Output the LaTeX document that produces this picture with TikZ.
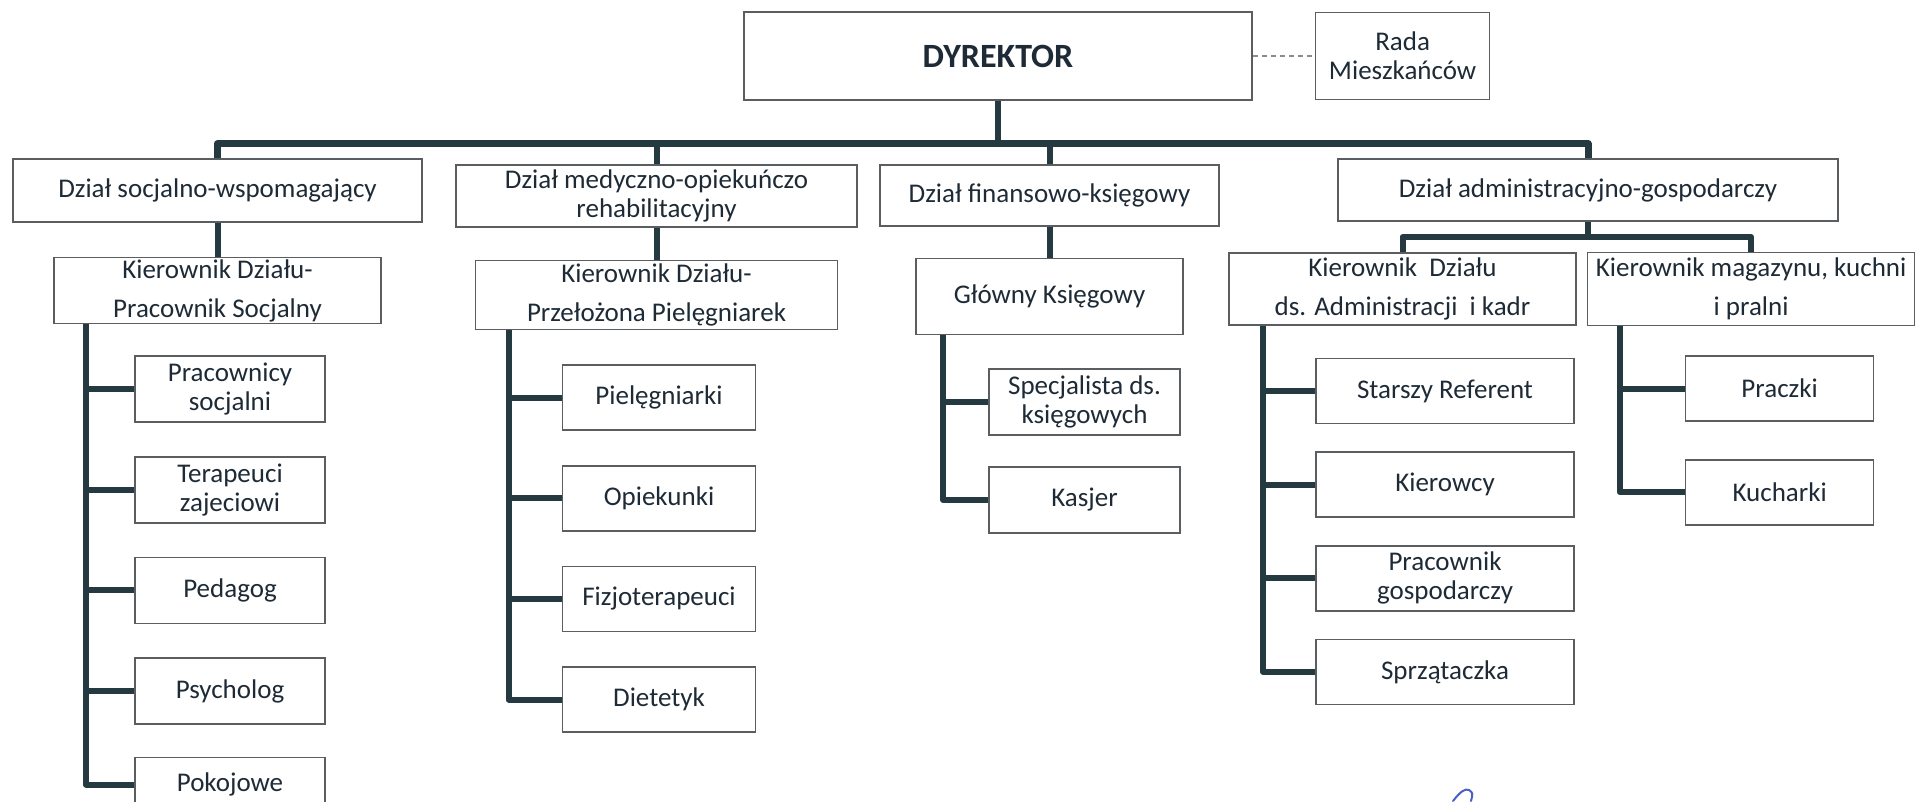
\documentclass[tikz,border=0pt]{standalone}
\usepackage{fontspec}
\setmainfont{Carlito}
\usetikzlibrary{positioning}

\definecolor{inkblue}{HTML}{1E2B36}
\definecolor{boxgray}{HTML}{5A5E60}
\definecolor{linkslate}{HTML}{243A40}
\definecolor{dashgray}{HTML}{8A8A8A}
\definecolor{penblue}{HTML}{4B5FC4}

\tikzset{
  box/.style={draw=boxgray, line width=1.6pt, fill=white, text=inkblue, align=center,
    inner xsep=4pt, inner ysep=1pt, font=\fontsize{27}{29}\selectfont},
  head/.style={box, font=\fontsize{27}{39}\selectfont},
  leaf/.style={box, minimum height=65pt},
  link/.style={draw=linkslate, line width=6pt, line join=round},
  bus/.style={link, line width=7pt},
  dashline/.style={draw=dashgray, line width=1.4pt, dash pattern=on 5pt off 4pt},
}

\begin{document}
\begin{tikzpicture}[x=1pt,y=-1pt]
	\useasboundingbox (0,0) rectangle (1916,801);
	\clip (0,0) rectangle (1916,801);

	% dyrekcja
	\node[box, font=\fontsize{34}{40}\selectfont\bfseries, minimum width=508pt, minimum height=88pt] (dyr) at (998,56) {DYREKTOR};
	\node[box, minimum width=174pt, minimum height=87pt, right=62pt of dyr] (rada) {Rada\\Mieszkańców};
	\coordinate[below=43pt of dyr.south] (bus);

	% dzialy
	\node[box, minimum width=409pt, minimum height=63pt] (socj) at (217.5,190.5) {Dział socjalno-wspomagający};
	\node[box, minimum width=401pt, minimum height=62pt] (med) at (656.5,196) {Dział medyczno-opiekuńczo\\rehabilitacyjny};
	\node[box, minimum width=339pt, minimum height=61pt] (fin) at (1049.5,195.5) {Dział finansowo-księgowy};
	\node[box, minimum width=500pt, minimum height=62pt] (adm) at (1588,190) {Dział administracyjno-gospodarczy};
	\coordinate[below=15pt of adm.south] (sub);

	% kierownicy
	\node[head, minimum width=327pt, minimum height=66pt, below=34pt of socj] (ks) {Kierownik Działu-\\Pracownik Socjalny};
	\node[head, minimum width=362pt, minimum height=69pt, below=32pt of med] (kp) {Kierownik Działu-\\Przełożona Pielęgniarek};
	\node[head, minimum width=267pt, minimum height=76pt, below=31pt of fin] (gk) {Główny Księgowy};
	\node[head, minimum width=347pt, minimum height=72pt] (ka) at (1402.5,289) {Kierownik~ Działu\\ds. Administracji~ i kadr};
	\node[head, minimum width=327pt, minimum height=73pt, right=10pt of ka] (km) {Kierownik magazynu, kuchni\\i pralni};

	% stanowiska - dzial socjalny
	\node[leaf, minimum width=190pt, minimum height=66pt, below right=31pt and 81pt of ks.south west] (s1) {Pracownicy\\socjalni};
	\node[leaf, minimum width=190pt, minimum height=66pt, below=33pt of s1] (s2) {Terapeuci\\zajeciowi};
	\node[leaf, minimum width=190pt, minimum height=66pt, below=33pt of s2] (s3) {Pedagog};
	\node[leaf, minimum width=190pt, minimum height=66pt, below=33pt of s3] (s4) {Psycholog};
	\node[leaf, minimum width=190pt, minimum height=54pt, below=32pt of s4] (s5) {Pokojowe};

	% stanowiska - dzial medyczny
	\node[leaf, minimum width=193pt, below right=34pt and 87pt of kp.south west] (m1) {Pielęgniarki};
	\node[leaf, minimum width=193pt, below=34pt of m1] (m2) {Opiekunki};
	\node[leaf, minimum width=193pt, below=34pt of m2] (m3) {Fizjoterapeuci};
	\node[leaf, minimum width=193pt, below=34pt of m3] (m4) {Dietetyk};

	% stanowiska - dzial finansowy
	\node[leaf, minimum width=191pt, minimum height=66pt, below right=33pt and 73pt of gk.south west] (f1) {Specjalista ds.\\księgowych};
	\node[leaf, minimum width=191pt, minimum height=66pt, below=30pt of f1] (f2) {Kasjer};

	% stanowiska - administracja
	\node[leaf, minimum width=258pt, below right=32pt and 87pt of ka.south west] (a1) {Starszy Referent};
	\node[leaf, minimum width=258pt, below=27pt of a1] (a2) {Kierowcy};
	\node[leaf, minimum width=258pt, below=27pt of a2] (a3) {Pracownik\\gospodarczy};
	\node[leaf, minimum width=258pt, below=27pt of a3] (a4) {Sprzątaczka};

	% stanowiska - magazyn
	\node[leaf, minimum width=188pt, below right=29pt and 98pt of km.south west] (k1) {Praczki};
	\node[leaf, minimum width=188pt, below=37pt of k1] (k2) {Kucharki};

	% polaczenia
	\draw[dashline] (dyr.east) -- (rada.west);
	\draw[link] (dyr.south) -- (bus);
	\draw[bus] (socj.north) |- (bus) -| (adm.north);
	\draw[link] (med.north |- bus) -- (med.north);
	\draw[link] (fin.north |- bus) -- (fin.north);
	\draw[link] (socj) -- (ks);
	\draw[link] (med) -- (kp);
	\draw[link] (fin) -- (gk);
	\draw[link] (adm.south) -- (sub);
	\draw[link] (ka.north) |- (sub) -| (km.north);

	\coordinate[xshift=33pt] (sp1) at (ks.south west);
	\coordinate[xshift=34pt] (sp2) at (kp.south west);
	\coordinate[xshift=28pt] (sp3) at (gk.south west);
	\coordinate[xshift=35pt] (sp4) at (ka.south west);
	\coordinate[xshift=33pt] (sp5) at (km.south west);

	\draw[link] (sp1) |- (s5.west) (s1.west -| sp1) -- (s1.west) (s2.west -| sp1) -- (s2.west)
		(s3.west -| sp1) -- (s3.west) (s4.west -| sp1) -- (s4.west);
	\draw[link] (sp2) |- (m4.west) (m1.west -| sp2) -- (m1.west) (m2.west -| sp2) -- (m2.west)
		(m3.west -| sp2) -- (m3.west);
	\draw[link] (sp3) |- (f2.west) (f1.west -| sp3) -- (f1.west);
	\draw[link] (sp4) |- (a4.west) (a1.west -| sp4) -- (a1.west) (a2.west -| sp4) -- (a2.west)
		(a3.west -| sp4) -- (a3.west);
	\draw[link] (sp5) |- (k2.west) (k1.west -| sp5) -- (k1.west);

	% podpis
	\draw[penblue, line width=2pt, line cap=round] (1453,801) .. controls (1460,792) and (1465,788) .. (1469,790)
		.. controls (1473,793) .. (1471,801);
\end{tikzpicture}
\end{document}
